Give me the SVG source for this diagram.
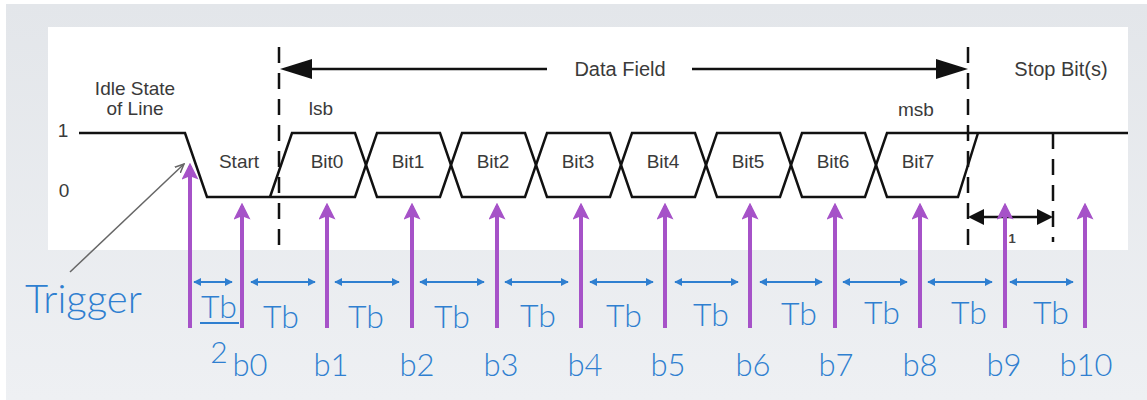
<svg xmlns="http://www.w3.org/2000/svg" width="1147" height="400" viewBox="0 0 1147 400">
  <defs>
    <linearGradient id="bg" x1="0" y1="0" x2="0" y2="1">
      <stop offset="0" stop-color="#e3e6ea"/>
      <stop offset="1" stop-color="#eef0f3"/>
    </linearGradient>
    <marker id="blueHead" viewBox="0 0 10 10" refX="9" refY="5" markerWidth="8" markerHeight="8" markerUnits="userSpaceOnUse" orient="auto-start-reverse">
      <path d="M0,0 L10,5 L0,10 z" fill="#2f7fd0"/>
    </marker>
    <marker id="purpleHead" viewBox="0 0 10 10" refX="8" refY="5" markerWidth="17" markerHeight="17" markerUnits="userSpaceOnUse" orient="auto">
      <path d="M0,0 L10,5 L0,10 L2,5 z" fill="#a652c8"/>
    </marker>
    <marker id="grayHead" viewBox="0 0 10 10" refX="9" refY="5" markerWidth="10" markerHeight="10" markerUnits="userSpaceOnUse" orient="auto">
      <path d="M0,1 L9,5 L0,9" fill="none" stroke="#666" stroke-width="1.5"/>
    </marker>
  </defs>
  <style>
    .sig { fill: none; stroke: #111; stroke-width: 2.5; stroke-linejoin: miter; }
    .dash { fill: none; stroke: #111; stroke-width: 2.5; stroke-dasharray: 16 10; }
    .blk { fill: none; stroke: #111; stroke-width: 2.5; }
    .lbl { font-family: "Liberation Sans", Arial, sans-serif; font-size: 19px; fill: #3a3a3a; }
    .hdr { font-family: "Liberation Sans", Arial, sans-serif; font-size: 20px; fill: #3a3a3a; }
    .blue { font-family: Lato, "Open Sans", sans-serif; font-weight: 300; fill: #2f7fd0; }
    .tb { font-size: 32px; text-anchor: middle; }
    .bn { font-size: 31px; text-anchor: middle; }
    .span { fill: none; stroke: #2f7fd0; stroke-width: 2; marker-start: url(#blueHead); marker-end: url(#blueHead); }
    .sample { fill: none; stroke: #a652c8; stroke-width: 4; marker-end: url(#purpleHead); }
  </style>

  <!-- slide background and white timing panel -->
  <rect x="0" y="0" width="1147" height="400" fill="#ffffff"/>
  <rect x="6" y="4" width="1141" height="396" fill="url(#bg)"/>
  <rect x="48" y="27" width="1080" height="223" fill="#ffffff"/>

  <!-- waveform of one serial frame -->
  <g id="waveform">
    <path class="sig" d="M79,133 H185 L207,197 H355 L377,133 H440 L462,197 H525 L547,133 H610 L632,197 H695 L717,133 H780 L802,197 H865 L887,133 H1128"/>
    <path class="sig" d="M270,197 L292,133 H355 L377,197 H440 L462,133 H525 L547,197 H610 L632,133 H695 L717,197 H780 L802,133 H865 L887,197 H958 L978,133"/>
    <text class="lbl" x="63" y="137" font-size="15" text-anchor="middle">1</text>
    <text class="lbl" x="64" y="197" font-size="15" text-anchor="middle">0</text>
  </g>

  <g id="idle-label">
    <text class="lbl" x="135" y="95" text-anchor="middle">Idle State</text>
    <text class="lbl" x="135" y="115" text-anchor="middle">of Line</text>
  </g>

  <g id="bit-labels">
    <text class="lbl" x="239" y="168" text-anchor="middle">Start</text>
    <text class="lbl" x="327" y="168" text-anchor="middle">Bit0</text>
    <text class="lbl" x="408" y="168" text-anchor="middle">Bit1</text>
    <text class="lbl" x="493" y="168" text-anchor="middle">Bit2</text>
    <text class="lbl" x="578" y="168" text-anchor="middle">Bit3</text>
    <text class="lbl" x="663" y="168" text-anchor="middle">Bit4</text>
    <text class="lbl" x="748" y="168" text-anchor="middle">Bit5</text>
    <text class="lbl" x="833" y="168" text-anchor="middle">Bit6</text>
    <text class="lbl" x="918" y="168" text-anchor="middle">Bit7</text>
    <text class="lbl" x="321" y="115" text-anchor="middle">lsb</text>
    <text class="lbl" x="916" y="116" text-anchor="middle">msb</text>
  </g>

  <!-- field boundaries -->
  <g id="boundaries">
    <line class="dash" x1="279" y1="47" x2="279" y2="250"/>
    <line class="dash" x1="968" y1="47" x2="968" y2="250"/>
    <line class="dash" x1="1053" y1="133" x2="1053" y2="242"/>
  </g>

  <g id="data-field">
    <line class="blk" x1="305" y1="69" x2="547" y2="69"/>
    <line class="blk" x1="692" y1="69" x2="942" y2="69"/>
    <polygon points="280,69 312,59 312,79" fill="#111"/>
    <polygon points="968,69 936,59 936,79" fill="#111"/>
    <text class="hdr" x="620" y="76" text-anchor="middle">Data Field</text>
  </g>

  <g id="stop-bits">
    <text class="hdr" x="1061" y="76" text-anchor="middle">Stop Bit(s)</text>
    <line class="blk" x1="980" y1="217" x2="1041" y2="217"/>
    <polygon points="968,217 984,209 984,225" fill="#111"/>
    <polygon points="1053,217 1037,209 1037,225" fill="#111"/>
    <text x="1012" y="243" font-family="Liberation Sans, Arial, sans-serif" font-size="13" font-weight="bold" fill="#444" text-anchor="middle">1</text>
  </g>

  <!-- trigger callout -->
  <g id="trigger">
    <line x1="70" y1="272" x2="184" y2="164" stroke="#666" stroke-width="1.5" marker-end="url(#grayHead)"/>
    <text class="blue" x="25" y="313" font-size="40">Trigger</text>
  </g>

  <!-- sampling instants -->
  <g id="connectors">
    <line class="sample" x1="190" y1="328" x2="190" y2="166"/>
    <line class="sample" x1="242" y1="328" x2="242" y2="206"/>
    <line class="sample" x1="327" y1="328" x2="327" y2="206"/>
    <line class="sample" x1="412" y1="328" x2="412" y2="206"/>
    <line class="sample" x1="497" y1="328" x2="497" y2="206"/>
    <line class="sample" x1="581" y1="328" x2="581" y2="206"/>
    <line class="sample" x1="665" y1="328" x2="665" y2="206"/>
    <line class="sample" x1="750" y1="328" x2="750" y2="206"/>
    <line class="sample" x1="835" y1="328" x2="835" y2="206"/>
    <line class="sample" x1="920" y1="328" x2="920" y2="206"/>
    <line class="sample" x1="1005" y1="328" x2="1005" y2="206"/>
    <line class="sample" x1="1085" y1="328" x2="1085" y2="206"/>

    <line class="span" x1="194" y1="282" x2="232" y2="282"/>
    <line class="span" x1="251" y1="282" x2="315" y2="282"/>
    <line class="span" x1="335" y1="282" x2="399" y2="282"/>
    <line class="span" x1="420" y1="282" x2="484" y2="282"/>
    <line class="span" x1="505" y1="282" x2="568" y2="282"/>
    <line class="span" x1="590" y1="282" x2="653" y2="282"/>
    <line class="span" x1="675" y1="282" x2="738" y2="282"/>
    <line class="span" x1="760" y1="282" x2="822" y2="282"/>
    <line class="span" x1="843" y1="282" x2="907" y2="282"/>
    <line class="span" x1="928" y1="282" x2="992" y2="282"/>
    <line class="span" x1="1010" y1="282" x2="1073" y2="282"/>
  </g>

  <g id="bit-time-labels">
    <text class="blue tb" x="219" y="318" font-size="30">Tb</text>
    <line x1="200" y1="323" x2="239" y2="323" stroke="#2f7fd0" stroke-width="2"/>
    <text class="blue" x="219" y="363" font-size="30" text-anchor="middle">2</text>
    <text class="blue tb" x="281" y="328">Tb</text>
    <text class="blue tb" x="366" y="328">Tb</text>
    <text class="blue tb" x="452" y="328">Tb</text>
    <text class="blue tb" x="538" y="327">Tb</text>
    <text class="blue tb" x="624" y="327">Tb</text>
    <text class="blue tb" x="711" y="326">Tb</text>
    <text class="blue tb" x="799" y="325">Tb</text>
    <text class="blue tb" x="882" y="324">Tb</text>
    <text class="blue tb" x="969" y="324">Tb</text>
    <text class="blue tb" x="1051" y="324">Tb</text>
  </g>

  <g id="sample-labels">
    <text class="blue bn" x="250" y="376">b0</text>
    <text class="blue bn" x="331" y="376">b1</text>
    <text class="blue bn" x="417" y="376">b2</text>
    <text class="blue bn" x="501" y="376">b3</text>
    <text class="blue bn" x="585" y="376">b4</text>
    <text class="blue bn" x="668" y="376">b5</text>
    <text class="blue bn" x="753" y="376">b6</text>
    <text class="blue bn" x="836" y="376">b7</text>
    <text class="blue bn" x="920" y="376">b8</text>
    <text class="blue bn" x="1004" y="376">b9</text>
    <text class="blue bn" x="1086" y="376">b10</text>
  </g>
</svg>
